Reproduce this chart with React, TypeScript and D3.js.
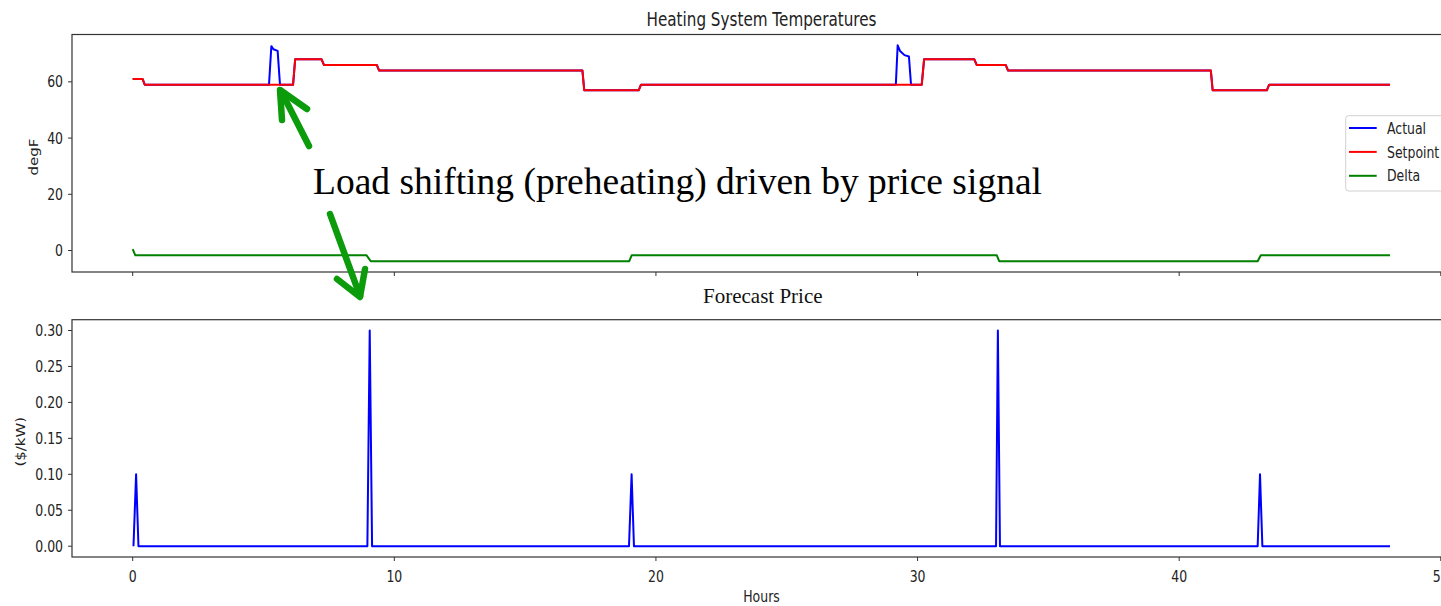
import React from "react";
import * as d3 from "d3";

// ---- Data (hours, values) ----
const setpointT = [0, 0.38, 0.46, 6.13, 6.21, 7.22, 7.31, 9.33, 9.42, 17.19, 17.26, 19.34, 19.43, 30.16, 30.25, 32.17, 32.26, 33.37, 33.46, 41.21, 41.28, 43.35, 43.44, 48.06];
const setpointV = [61, 61, 59, 59, 68, 68, 66, 66, 64, 64, 57, 57, 59, 59, 68, 68, 66, 66, 64, 64, 57, 57, 59, 59];

const actualT = [0, 0.38, 0.46, 5.21, 5.3, 5.38, 5.54, 5.63, 6.13, 6.21, 7.22, 7.31, 9.33, 9.42, 17.19, 17.26, 19.34, 19.43, 29.17, 29.24, 29.33, 29.5, 29.67, 29.75, 30.16, 30.25, 32.17, 32.26, 33.37, 33.46, 41.21, 41.28, 43.35, 43.44, 48.06];
const actualV = [61, 61, 59, 59, 72.7, 71.6, 71.0, 59, 59, 68, 68, 66, 66, 64, 64, 57, 57, 59, 59, 73, 71, 69.5, 69, 59, 59, 68, 68, 66, 66, 64, 64, 57, 57, 59, 59];

const deltaT = [0, 0.1, 8.94, 9.1, 18.98, 19.07, 33.03, 33.12, 43.0, 43.12, 48.06];
const deltaV = [0.5, -1.7, -1.7, -3.8, -3.8, -1.7, -1.7, -3.8, -3.8, -1.7, -1.7];

const priceT = [0.03, 0.13, 0.22, 8.97, 9.06, 9.15, 18.97, 19.07, 19.16, 33.0, 33.07, 33.15, 43.0, 43.09, 43.18, 48.06];
const priceV = [0, 0.1, 0, 0, 0.3, 0, 0, 0.1, 0, 0, 0.3, 0, 0, 0.1, 0, 0];

const xTicks = [0, 10, 20, 30, 40, 50];
const tempTicks = [0, 20, 40, 60];
const priceTicks = [0, 0.05, 0.1, 0.15, 0.2, 0.25, 0.3];

const legendLabels = ["Actual", "Setpoint", "Delta"];
const legendColors = ["#0000ff", "#ff0000", "#008000"];

const SANS = "'DejaVu Sans', sans-serif";
const SERIF = "'Liberation Serif', 'Times New Roman', serif";
const SX = 0.78;

function zip(t: number[], v: number[]): [number, number][] {
  return t.map((d, i) => [d, v[i]]);
}

function CText(props: { x: number; y: number; size: number; anchor?: string; children: any; rotate?: boolean; fill?: string }) {
  const { x, y, size, anchor = "start", children, rotate, fill = "#222" } = props;
  const tr = `translate(${x},${y}) scale(${SX},1)` + (rotate ? " rotate(-90)" : "");
  return (
    <text transform={tr} fontFamily={SANS} fontSize={size} textAnchor={anchor as any} fill={fill}
      dominantBaseline={rotate ? "central" : undefined}>
      {children}
    </text>
  );
}

export default function App() {
  const left = 72, right = 1451;
  const x = d3.scaleLinear().domain([-2.32, 50.39]).range([left, right]);

  const t1 = 34.5, b1 = 272;
  const yT = d3.scaleLinear().domain([-7.64, 76.84]).range([b1, t1]);
  const t2 = 319.7, b2 = 557;
  const yP = d3.scaleLinear().domain([-0.015, 0.315]).range([b2, t2]);

  const lineT = d3.line<[number, number]>().x(d => x(d[0])).y(d => yT(d[1]));
  const lineP = d3.line<[number, number]>().x(d => x(d[0])).y(d => yP(d[1]));

  const spine = "#333";
  const green = "#0b9b0b";

  return (
    <svg width={1441} height={606} style={{ position: "absolute", left: 0, top: 0, background: "#fff" }}>
      <rect x={0} y={0} width={1441} height={606} fill="#fff" />

      {/* Top panel */}
      <CText x={761.5} y={25.5} size={19.5} anchor="middle">Heating System Temperatures</CText>
      <path d={lineT(zip(actualT, actualV)) || ""} fill="none" stroke="#0000ff" strokeWidth={2} strokeLinejoin="round" />
      <path d={lineT(zip(setpointT, setpointV)) || ""} fill="none" stroke="#ff0000" strokeWidth={2} strokeLinejoin="round" />
      <path d={lineT(zip(deltaT, deltaV)) || ""} fill="none" stroke="#008000" strokeWidth={2} strokeLinejoin="round" />
      <rect x={left} y={t1} width={right - left} height={b1 - t1} fill="none" stroke={spine} strokeWidth={1.2} />
      {tempTicks.map(v => (
        <g key={"tt" + v}>
          <line x1={left - 4} x2={left} y1={yT(v)} y2={yT(v)} stroke={spine} strokeWidth={1} />
          <CText x={63} y={yT(v) + 5.6} size={16} anchor="end">{String(v)}</CText>
        </g>
      ))}
      {xTicks.map(v => (
        <line key={"xt1" + v} x1={x(v)} x2={x(v)} y1={b1} y2={b1 + 4} stroke={spine} strokeWidth={1} />
      ))}
      <CText x={34} y={157} size={15} anchor="middle" rotate>degF</CText>

      {/* Legend */}
      <rect x={1345.7} y={115.7} width={110} height={75.3} rx={3} fill="#fff" fillOpacity={0.85} stroke="#d0d0d0" strokeWidth={1} />
      {legendLabels.map((lab, i) => {
        const ly = 128 + i * 23.9;
        return (
          <g key={lab}>
            <line x1={1349} x2={1376.7} y1={ly} y2={ly} stroke={legendColors[i]} strokeWidth={2} />
            <CText x={1387} y={ly + 5.6} size={16}>{lab}</CText>
          </g>
        );
      })}

      {/* Bottom panel */}
      <text x={762.8} y={303} fontFamily={SERIF} fontSize={21} textAnchor="middle" fill="#111">Forecast Price</text>
      <path d={lineP(zip(priceT, priceV)) || ""} fill="none" stroke="#0000ff" strokeWidth={2} strokeLinejoin="round" />
      <rect x={left} y={t2} width={right - left} height={b2 - t2} fill="none" stroke={spine} strokeWidth={1.2} />
      {priceTicks.map(v => (
        <g key={"pt" + v}>
          <line x1={left - 4} x2={left} y1={yP(v)} y2={yP(v)} stroke={spine} strokeWidth={1} />
          <CText x={63} y={yP(v) + 5.6} size={16} anchor="end">{v.toFixed(2)}</CText>
        </g>
      ))}
      {xTicks.map(v => (
        <g key={"xt2" + v}>
          <line x1={x(v)} x2={x(v)} y1={b2} y2={b2 + 4} stroke={spine} strokeWidth={1} />
          <CText x={x(v)} y={582} size={16} anchor="middle">{String(v)}</CText>
        </g>
      ))}
      <CText x={761.5} y={602} size={16} anchor="middle">Hours</CText>
      <CText x={21.5} y={441.7} size={15} anchor="middle" rotate>($/kW)</CText>

      {/* Annotation */}
      <text x={313} y={194} fontFamily={SERIF} fontSize={37.5} fill="#000">Load shifting (preheating) driven by price signal</text>
      <g stroke={green} strokeWidth={6.5} strokeLinecap="round" strokeLinejoin="round" fill="none">
        <line x1={309} y1={146} x2={281} y2={91} />
        <polyline points="282,120 280,90 307,109" />
        <line x1={330} y1={214} x2={360} y2={296} />
        <polyline points="337,279 360,297 365,269" />
      </g>
    </svg>
  );
}
